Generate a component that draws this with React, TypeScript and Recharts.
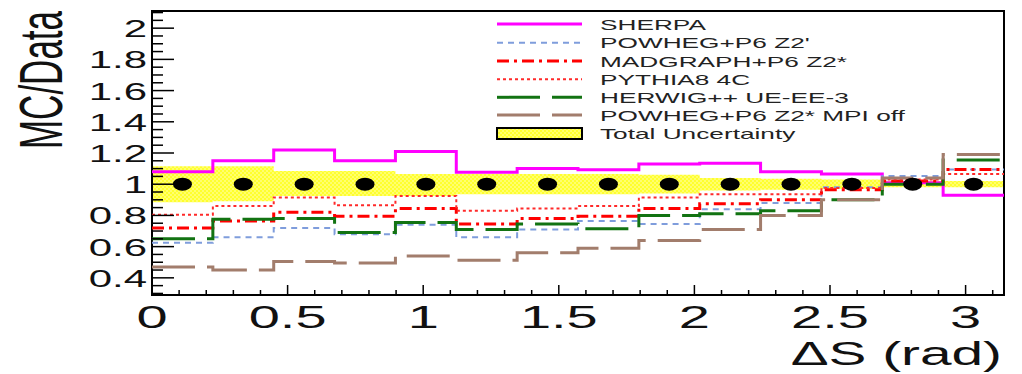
import React from 'react';
import {
  ComposedChart,
  Line,
  Area,
  Scatter,
  XAxis,
  YAxis,
  ReferenceArea,
  Legend
} from 'recharts';

// bin edges of the ΔS histogram (14 bins over 0..π)
const binEdges = [0, 0.2244, 0.4488, 0.6732, 0.8976, 1.122, 1.3464, 1.5708, 1.7952, 2.0196, 2.244, 2.4684, 2.6928, 2.9172, 3.1416];
const binCenters = [0.1122, 0.3366, 0.561, 0.7854, 1.0098, 1.2342, 1.4586, 1.683, 1.9074, 2.1318, 2.3562, 2.5806, 2.805, 3.0294];
const dataRatio = [1, 1, 1, 1, 1, 1, 1, 1, 1, 1, 1, 1, 1, 1];

const sherpa = [1.08, 1.15, 1.22, 1.15, 1.21, 1.076, 1.1, 1.093, 1.13, 1.134, 1.08, 1.066, 1.01, 0.93];
const powhegZ2p = [0.625, 0.66, 0.72, 0.68, 0.74, 0.66, 0.71, 0.765, 0.745, 0.84, 0.88, 0.98, 1.053, 1.095];
const madgraph = [0.72, 0.765, 0.82, 0.795, 0.845, 0.745, 0.78, 0.795, 0.845, 0.875, 0.9, 0.965, 1.02, 1.095];
const pythia8 = [0.805, 0.86, 0.915, 0.865, 0.925, 0.83, 0.845, 0.86, 0.915, 0.935, 0.935, 0.975, 1.03, 1.065];
const herwig = [0.65, 0.775, 0.78, 0.69, 0.755, 0.71, 0.745, 0.715, 0.8, 0.81, 0.83, 0.9, 1.0, 1.155];
const powhegMpiOff = [0.47, 0.45, 0.505, 0.495, 0.54, 0.513, 0.56, 0.59, 0.64, 0.71, 0.8, 0.9, 1.04, 1.19];
const bandHigh = [1.115, 1.115, 1.085, 1.085, 1.065, 1.065, 1.065, 1.065, 1.06, 1.04, 1.035, 1.03, 1.02, 1.02];
const bandLow = [0.885, 0.89, 0.925, 0.925, 0.925, 0.935, 0.935, 0.935, 0.94, 0.96, 0.965, 0.97, 0.98, 0.98];

const series = [
  { key: 'sherpa', name: 'SHERPA', color: '#ff00ff', width: 3, dash: undefined, values: sherpa },
  { key: 'powheg', name: "POWHEG+P6 Z2'", color: '#7f9ddc', width: 2, dash: '6 5', values: powhegZ2p },
  { key: 'madgraph', name: 'MADGRAPH+P6 Z2*', color: '#ff0000', width: 3, dash: '12 5 3 5', values: madgraph },
  { key: 'pythia', name: 'PYTHIA8 4C', color: '#ff2a2a', width: 2, dash: '3 3', values: pythia8 },
  { key: 'herwig', name: 'HERWIG++ UE-EE-3', color: '#127312', width: 3, dash: '43 12', values: herwig },
  { key: 'mpioff', name: 'POWHEG+P6 Z2* MPI off', color: '#a27d6c', width: 3, dash: '43 12', values: powhegMpiOff }
];

const rows = binEdges.map((x, i) => {
  const b = Math.min(i, binEdges.length - 2);
  const row: any = { x, band: [bandLow[b], bandHigh[b]] };
  series.forEach((s) => { row[s.key] = s.values[b]; });
  return row;
});

const points = binCenters.map((x, i) => ({ x, y: dataRatio[i] }));

const yTicks = Array.from({ length: 37 }, (_, i) => Math.round((0.3 + i * 0.05) * 100) / 100);
const xTicks = Array.from({ length: 32 }, (_, i) => i / 10);

const FONT = '"Liberation Sans", Arial, Helvetica, sans-serif';
const STRETCH = 1.75;
const PLOT_LEFT = 152;
const PLOT_BOTTOM = 295;

const YTick = (props: any) => {
  const { y, payload } = props;
  const v = payload.value;
  const major = Math.abs(v * 5 - Math.round(v * 5)) < 1e-6 && v >= 0.39 && v <= 2.01;
  return (
    <g>
      <line x1={PLOT_LEFT} x2={PLOT_LEFT + (major ? 22 : 11)} y1={y} y2={y} stroke="#000" strokeWidth={1.5} />
      {major && (
        <text transform={`translate(147,${y + 9}) scale(${STRETCH},1)`} textAnchor="end" fontSize={24} fontFamily={FONT} fill="#111">
          {String(Math.round(v * 10) / 10)}
        </text>
      )}
    </g>
  );
};

const XTick = (props: any) => {
  const { x, payload } = props;
  const v = payload.value;
  const major = Math.abs(v * 2 - Math.round(v * 2)) < 1e-6;
  return (
    <g>
      <line x1={x} x2={x} y1={PLOT_BOTTOM} y2={PLOT_BOTTOM - (major ? 10 : 5)} stroke="#000" strokeWidth={1.5} />
      {major && (
        <text transform={`translate(${x},328) scale(${STRETCH},1)`} textAnchor="middle" fontSize={32} fontFamily={FONT} fill="#111">
          {String(v)}
        </text>
      )}
    </g>
  );
};

const YTitle = () => (
  <text transform={`translate(62,80) scale(${STRETCH},1) rotate(-90)`} textAnchor="middle" fontSize={35} fontFamily={FONT} fill="#111">
    MC/Data
  </text>
);

const XTitle = () => (
  <text transform={`translate(1002,365) scale(1.72,1)`} textAnchor="end" fontSize={33} fontFamily={FONT} fill="#111">
    ΔS (rad)
  </text>
);

const DataPoint = (props: any) => <ellipse cx={props.cx} cy={props.cy} rx={9.5} ry={6.5} fill="#000" />;

const Stipple = ({ id }: { id: string }) => (
  <pattern id={id} width={4} height={4} patternUnits="userSpaceOnUse">
    <rect width={4} height={4} fill="#ffff2e" />
    <circle cx={1} cy={1} r={0.8} fill="#ffffc0" />
    <circle cx={3} cy={3} r={0.8} fill="#ffffc0" />
  </pattern>
);

const LegendBox = () => {
  const rowsY = [10, 28.7, 47, 65.3, 83.3, 101];
  return (
    <svg width={520} height={130} style={{ overflow: 'visible', display: 'block' }}>
      <defs>
        <Stipple id="bandFillLegend" />
      </defs>
      {series.map((s, i) => (
        <g key={s.key}>
          <line x1={7} x2={92} y1={rowsY[i]} y2={rowsY[i]} stroke={s.color} strokeWidth={s.width} strokeDasharray={s.dash} />
          <text transform={`translate(110,${rowsY[i] + 5.5}) scale(${STRETCH},1)`} fontSize={15} fontFamily={FONT} fill="#222">
            {s.name}
          </text>
        </g>
      ))}
      <rect x={7} y={114} width={85} height={11} fill="url(#bandFillLegend)" stroke="#000" strokeWidth={2} />
      <text transform={`translate(110,${125}) scale(${STRETCH},1)`} fontSize={15} fontFamily={FONT} fill="#222">
        Total Uncertainty
      </text>
    </svg>
  );
};

export default function App() {
  return (
    <div style={{ position: 'absolute', left: 0, top: 0, width: 1022, height: 374, background: '#fff' }}>
      <ComposedChart
        width={1022}
        height={374}
        data={rows}
        margin={{ top: 11, right: 18, bottom: 0, left: 0 }}
      >
        <defs>
          <Stipple id="bandFill" />
        </defs>
        <XAxis
          dataKey="x"
          type="number"
          domain={[0, 3.1416]}
          allowDataOverflow
          ticks={xTicks}
          interval={0}
          tick={<XTick />}
          tickLine={false}
          axisLine={false}
          height={79}
          label={<XTitle />}
        />
        <YAxis
          type="number"
          domain={[0.29, 2.11]}
          allowDataOverflow
          ticks={yTicks}
          interval={0}
          tick={<YTick />}
          tickLine={false}
          axisLine={false}
          width={152}
          label={<YTitle />}
        />
        <Area
          dataKey="band"
          type="stepAfter"
          stroke="none"
          fill="url(#bandFill)"
          fillOpacity={1}
          isAnimationActive={false}
          dot={false}
          activeDot={false}
        />
        <Scatter data={points} dataKey="y" shape={<DataPoint />} isAnimationActive={false} />
        {series.map((s) => (
          <Line
            key={s.key}
            dataKey={s.key}
            name={s.name}
            type="stepAfter"
            stroke={s.color}
            strokeWidth={s.width}
            strokeDasharray={s.dash}
            dot={false}
            activeDot={false}
            isAnimationActive={false}
          />
        ))}
        <ReferenceArea x1={0} x2={3.1416} y1={0.29} y2={2.11} fill="none" stroke="#000" strokeWidth={2} ifOverflow="visible" />
        <Legend
          layout="horizontal"
          verticalAlign="middle"
          align="center"
          content={<LegendBox />}
          wrapperStyle={{ left: 490, top: 14, width: 520, height: 130 }}
        />
      </ComposedChart>
    </div>
  );
}
